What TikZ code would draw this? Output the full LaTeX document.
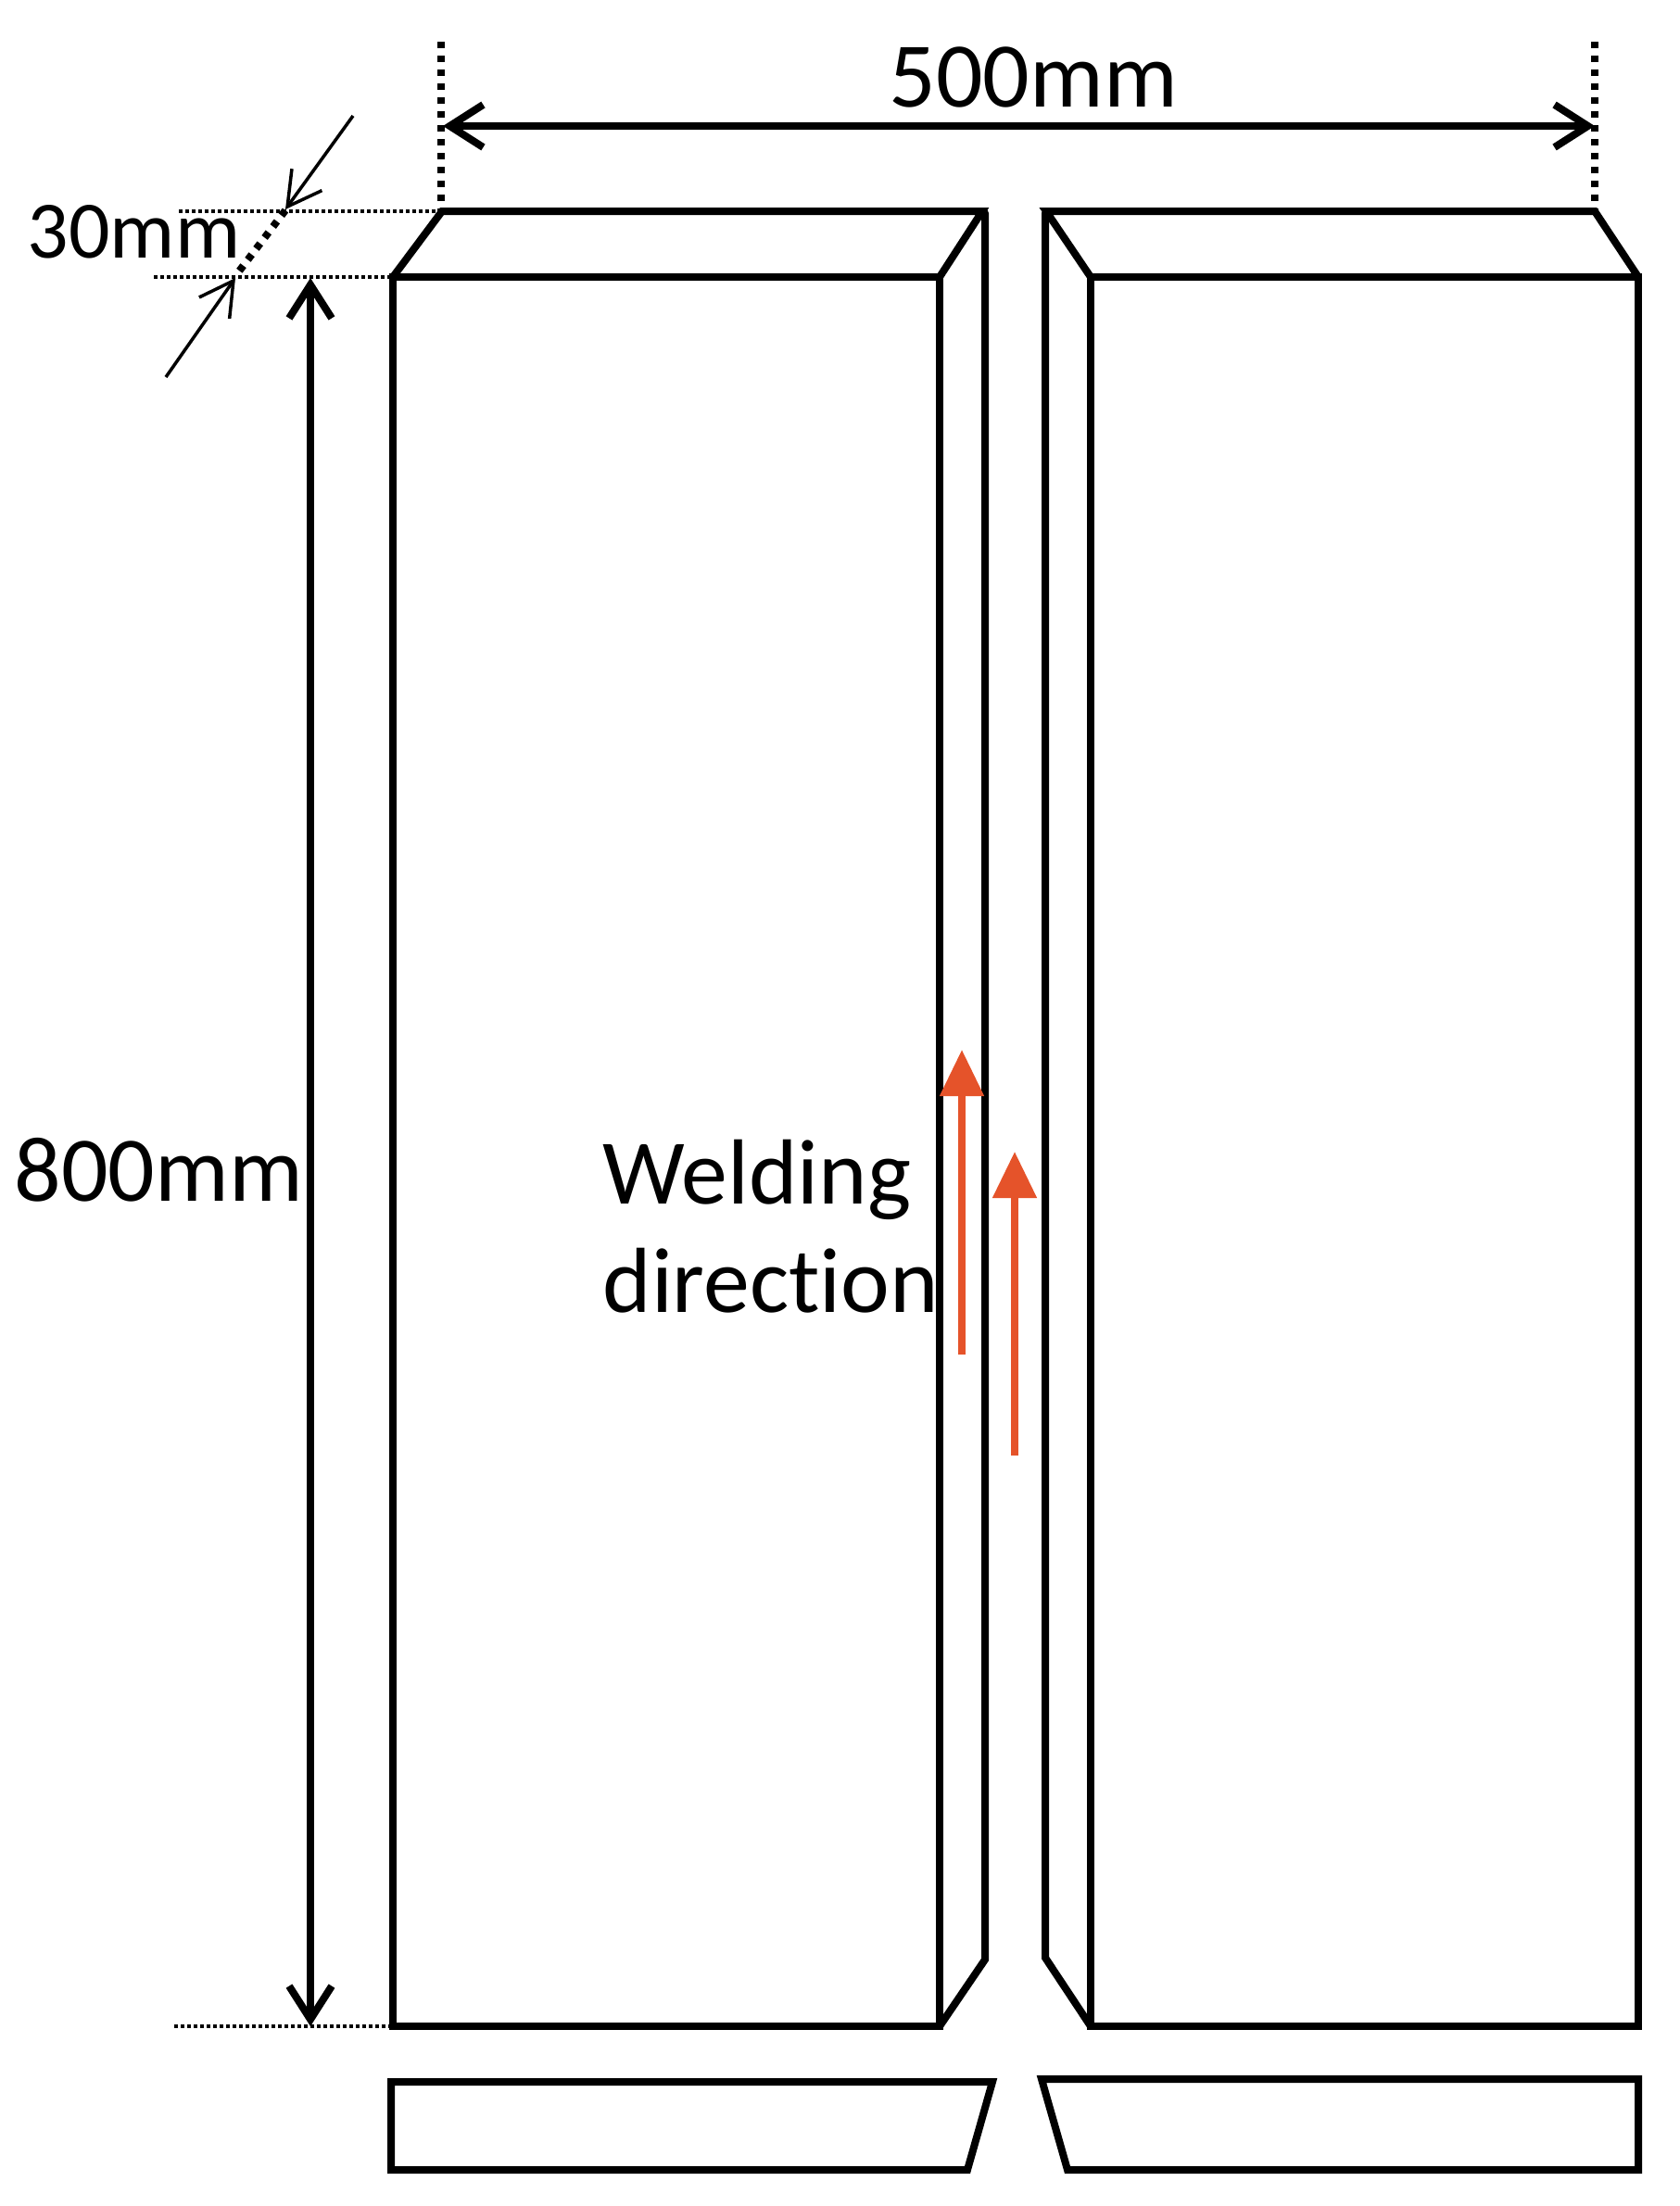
\documentclass[tikz,border=0pt]{standalone}
\usepackage{fontspec}
\setmainfont[Ligatures=NoCommon]{Carlito}
\usetikzlibrary{arrows.meta}
\definecolor{weldred}{HTML}{E5532A}
\tikzset{
    plate/.style={line width=0.08cm,line join=miter,line cap=round},
    dimthick/.style={line width=0.08cm,{Straight Barb[length=0.36cm,width=0.46cm]}-{Straight Barb[length=0.36cm,width=0.46cm]}},
    dimthin/.style={line width=0.035cm,-{Straight Barb[length=0.36cm,width=0.4cm]}},
    dotthick/.style={line width=0.08cm,dash pattern=on 0.07cm off 0.08cm},
    dotthin/.style={line width=0.035cm,dash pattern=on 0.04cm off 0.03cm},
    weld/.style={line width=0.08cm,weldred,-{Triangle[length=0.5cm,width=0.46cm]}},
    lbl/.style={anchor=base west,inner sep=0pt,font=\fontsize{28.4pt}{28.4pt}\selectfont}
}
\begin{document}
\begin{tikzpicture}
            \useasboundingbox (0,0) rectangle (18.12,-23.81);
            % Left plate
            \draw[plate] (4.24,-2.99) rectangle (10.14,-21.87);
            \draw[plate] (4.24,-2.99) -- (4.77,-2.28) -- (10.60,-2.28) -- (10.14,-2.99);
            \draw[plate] (10.63,-2.30) -- (10.63,-21.15) -- (10.14,-21.87);
            % Right plate
            \draw[plate] (11.77,-2.99) rectangle (17.68,-21.87);
            \draw[plate] (11.77,-2.99) -- (11.29,-2.28) -- (17.21,-2.28) -- (17.68,-2.99);
            \draw[plate] (11.28,-2.30) -- (11.28,-21.13) -- (11.77,-21.87);
            % Cross sections
            \draw[plate] (4.22,-22.47) -- (10.71,-22.47) -- (10.44,-23.42) -- (4.22,-23.42) -- cycle;
            \draw[plate] (11.24,-22.44) -- (17.68,-22.44) -- (17.68,-23.42) -- (11.52,-23.42) -- cycle;
            % Width
            \draw[dotthick] (4.76,-0.45) -- (4.76,-2.28);
            \draw[dotthick] (17.21,-0.45) -- (17.21,-2.28);
            \draw[dimthick] (4.78,-1.36) -- (17.21,-1.36);
            \draw (9.59,-1.15) node[lbl] (width) {500mm};
            % Length
            \draw[dimthick] (3.35,-3.00) -- (3.35,-21.87);
            \draw[dotthin] (1.88,-21.87) -- (4.24,-21.87);
            \draw (0.15,-12.96) node[lbl] (length) {800mm};
            % Thickness
            \draw[dotthin] (1.93,-2.28) -- (4.76,-2.28);
            \draw[dotthin] (1.66,-2.99) -- (4.24,-2.99);
            \draw[dotthick] (3.08,-2.27) -- (2.54,-2.98);
            \draw[dimthin] (3.81,-1.25) -- (3.08,-2.26);
            \draw[dimthin] (1.79,-4.07) -- (2.54,-3.00);
            \draw (0.29,-2.78) node[lbl,font=\fontsize{25pt}{25pt}\selectfont] (thickness) {30mm};
            % Welding direction
            \draw[weld] (10.38,-14.62) -- (10.38,-11.33);
            \draw[weld] (10.95,-15.71) -- (10.95,-12.43);
            \draw (6.50,-12.99) node[lbl] (welding) {Welding};
            \draw (6.50,-14.16) node[lbl] (direction) {direction};
\end{tikzpicture}
\end{document}
